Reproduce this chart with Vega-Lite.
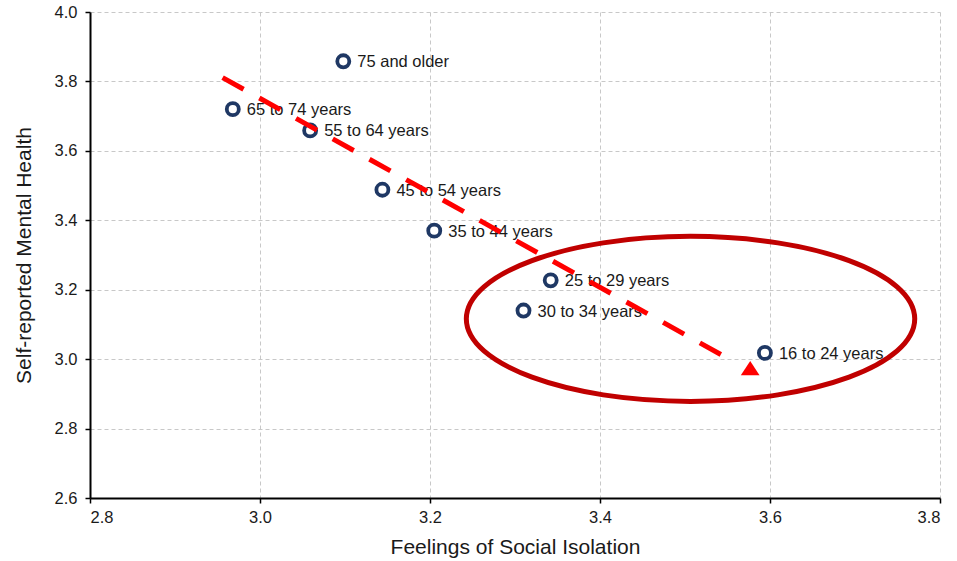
{
  "$schema": "https://vega.github.io/schema/vega-lite/v6.json",
  "width": 850,
  "height": 486,
  "autosize": {"type": "none"},
  "padding": {"left": 90, "top": 12, "right": 17, "bottom": 63},
  "background": "white",
  "config": {
    "view": {"stroke": null},
    "font": "Liberation Sans",
    "axis": {
      "domainColor": "#000000",
      "domainWidth": 2,
      "tickColor": "#000000",
      "tickWidth": 1.5,
      "tickSize": 5,
      "gridColor": "#c8c8c8",
      "gridDash": [4, 3],
      "gridWidth": 1,
      "labelFont": "Liberation Sans",
      "labelFontSize": 16.5,
      "labelColor": "#1a1a1a",
      "titleFont": "Liberation Sans",
      "titleFontSize": 21,
      "titleFontWeight": "normal",
      "titleColor": "#1a1a1a"
    }
  },
  "datasets": {
    "ages": [
      {"group": "75 and older", "isolation": 3.098, "mental": 3.858},
      {"group": "65 to 74 years", "isolation": 2.968, "mental": 3.72},
      {"group": "55 to 64 years", "isolation": 3.059, "mental": 3.659},
      {"group": "45 to 54 years", "isolation": 3.144, "mental": 3.488},
      {"group": "35 to 44 years", "isolation": 3.205, "mental": 3.37},
      {"group": "25 to 29 years", "isolation": 3.342, "mental": 3.227},
      {"group": "30 to 34 years", "isolation": 3.31, "mental": 3.14},
      {"group": "16 to 24 years", "isolation": 3.594, "mental": 3.018}
    ],
    "trend": [
      {"isolation": 2.956, "mental": 3.811},
      {"isolation": 3.5535, "mental": 2.998}
    ],
    "arrowhead": [
      {"isolation": 3.5767, "mental": 2.974}
    ],
    "highlight": [
      {"isolation": 3.5065, "mental": 3.116}
    ]
  },
  "layer": [
    {
      "data": {"name": "highlight"},
      "mark": {
        "type": "point",
        "shape": "M 1 0 C 1 0.2032 0.5523 0.368 0 0.368 C -0.5523 0.368 -1 0.2032 -1 0 C -1 -0.2032 -0.5523 -0.368 0 -0.368 C 0.5523 -0.368 1 -0.2032 1 0 Z",
        "filled": false,
        "stroke": "#c00000",
        "strokeWidth": 5,
        "opacity": 1,
        "size": 201063
      },
      "encoding": {
        "x": {"field": "isolation", "type": "quantitative", "scale": {"domain": [2.8, 3.8], "nice": false, "zero": false},
          "axis": {"values": [2.8, 3.0, 3.2, 3.4, 3.6, 3.8], "format": ".1f", "title": "Feelings of Social Isolation", "labelPadding": 6, "titlePadding": 11}},
        "y": {"field": "mental", "type": "quantitative", "scale": {"domain": [2.6, 4.0], "nice": false, "zero": false},
          "axis": {"values": [2.6, 2.8, 3.0, 3.2, 3.4, 3.6, 3.8, 4.0], "format": ".1f", "title": "Self-reported Mental Health", "labelPadding": 8, "titlePadding": 20}}
      }
    },
    {
      "data": {"name": "ages"},
      "mark": {"type": "point", "shape": "circle", "filled": true, "fill": "white", "stroke": "#1f3864", "strokeWidth": 3.8, "size": 145, "opacity": 1},
      "encoding": {
        "x": {"field": "isolation", "type": "quantitative"},
        "y": {"field": "mental", "type": "quantitative"}
      }
    },
    {
      "data": {"name": "ages"},
      "mark": {"type": "text", "align": "left", "baseline": "middle", "dx": 14, "dy": 1, "fontSize": 16.5, "font": "Liberation Sans", "color": "#1a1a1a"},
      "encoding": {
        "x": {"field": "isolation", "type": "quantitative"},
        "y": {"field": "mental", "type": "quantitative"},
        "text": {"field": "group", "type": "nominal"}
      }
    },
    {
      "data": {"name": "trend"},
      "mark": {"type": "line", "color": "#ff0000", "strokeWidth": 5, "strokeDash": [24, 18], "strokeCap": "butt"},
      "encoding": {
        "x": {"field": "isolation", "type": "quantitative"},
        "y": {"field": "mental", "type": "quantitative"}
      }
    },
    {
      "data": {"name": "arrowhead"},
      "mark": {"type": "point", "shape": "M 0 -0.77 L 1 0.77 L -1 0.77 Z", "filled": true, "fill": "#ff0000", "stroke": null, "size": 350, "opacity": 1},
      "encoding": {
        "x": {"field": "isolation", "type": "quantitative"},
        "y": {"field": "mental", "type": "quantitative"}
      }
    }
  ]
}
